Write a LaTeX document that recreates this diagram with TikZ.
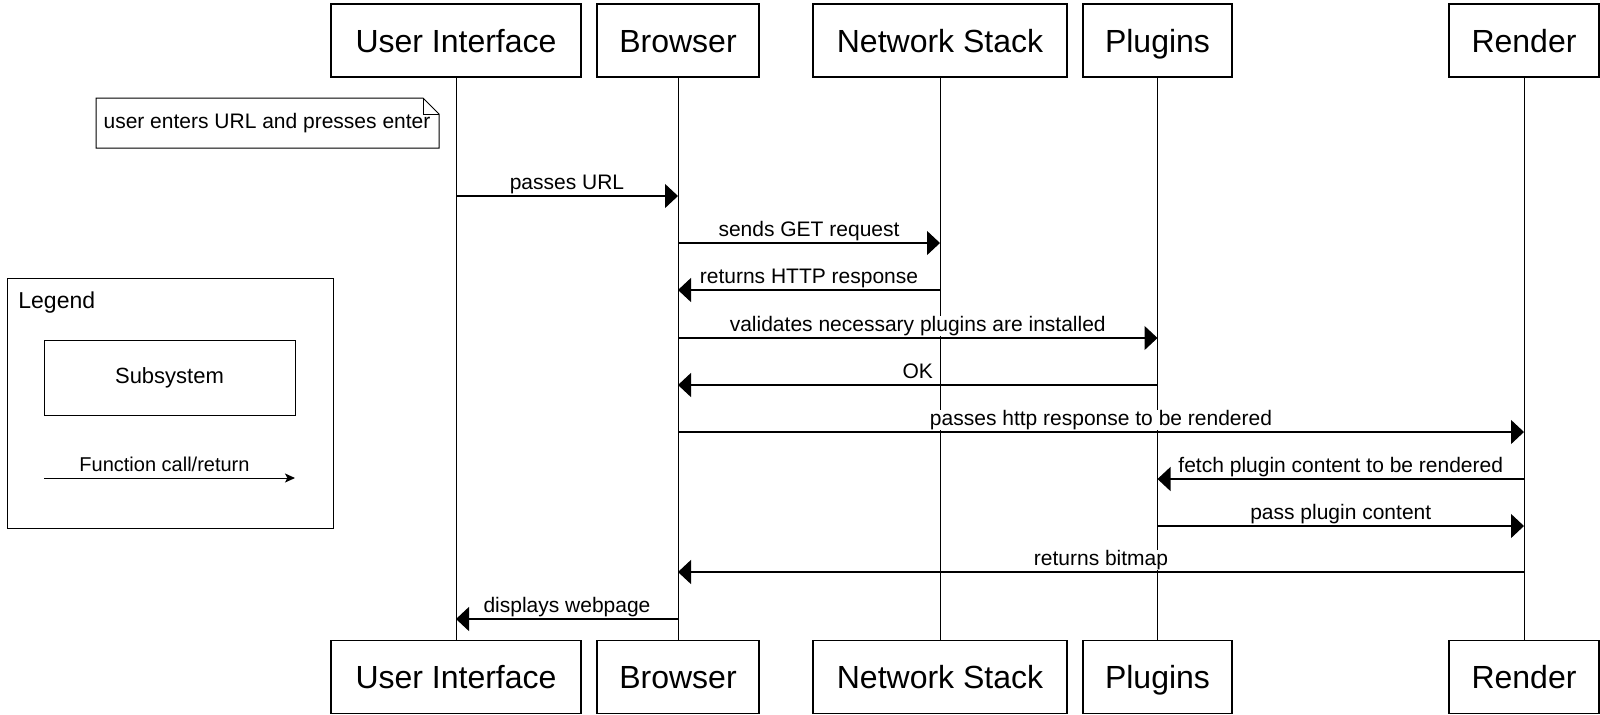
\documentclass[tikz,border=0pt]{standalone}
\usepackage{fontspec}
\setmainfont{Liberation Sans}
\usetikzlibrary{arrows.meta}

\begin{document}
\begin{tikzpicture}[x=0.5pt,y=-0.5pt,
  subsys/.style={draw,line width=0.6pt,minimum height=36.5pt,inner sep=0pt,text height=11.5pt,text depth=0pt,font=\fontsize{16}{19}\selectfont},
  life/.style={line width=0.5pt},
  msg/.style={line width=0.6pt,-{Triangle[length=6.5pt,width=12pt]}},
  lbl/.style={fill=white,inner sep=0pt,text height=7.9pt,text depth=2.3pt,font=\fontsize{10.5}{12}\selectfont}]
  \useasboundingbox (0,0) rectangle (1600,714);
  \node[subsys,minimum width=125pt] (ui) at (456,40.5) {User Interface};
  \node[subsys,minimum width=81pt] (br) at (678,40.5) {Browser};
  \node[subsys,minimum width=127pt] (ns) at (940,40.5) {Network Stack};
  \node[subsys,minimum width=74.5pt] (pl) at (1157.5,40.5) {Plugins};
  \node[subsys,minimum width=75pt] (rd) at (1524,40.5) {Render};
  \node[subsys,minimum width=125pt] (ui2) at (456,677) {User Interface};
  \node[subsys,minimum width=81pt] (br2) at (678,677) {Browser};
  \node[subsys,minimum width=127pt] (ns2) at (940,677) {Network Stack};
  \node[subsys,minimum width=74.5pt] (pl2) at (1157.5,677) {Plugins};
  \node[subsys,minimum width=75pt] (rd2) at (1524,677) {Render};
  \draw[life] (ui) -- (ui2);
  \draw[life] (br) -- (br2);
  \draw[life] (ns) -- (ns2);
  \draw[life] (pl) -- (pl2);
  \draw[life] (rd) -- (rd2);

  \draw[line width=0.5pt,fill=white] (96,98) -- (423,98) -- (439,114) -- (439,148) -- (96,148) -- cycle;
  \draw[line width=0.5pt] (423,98) -- (423,114) -- (439,114);
  \node[font=\fontsize{10.5}{12}\selectfont] (note) at (267,123) {user enters URL and presses enter};

  \draw[msg] (ui |- 0,196) -- node[lbl,above=0.5pt] {passes URL} (br |- 0,196);
  \draw[msg] (br |- 0,243) -- node[lbl,above=0.5pt] {sends GET request} (ns |- 0,243);
  \draw[msg] (ns |- 0,290) -- node[lbl,above=0.5pt] {returns HTTP response} (br |- 0,290);
  \draw[msg] (br |- 0,338) -- node[lbl,above=0.5pt] {validates necessary plugins are installed} (pl |- 0,338);
  \draw[msg] (pl |- 0,385) -- node[lbl,above=0.5pt] {OK} (br |- 0,385);
  \draw[msg] (br |- 0,432) -- node[lbl,above=0.5pt] {passes http response to be rendered} (rd |- 0,432);
  \draw[msg] (rd |- 0,479) -- node[lbl,above=0.5pt] {fetch plugin content to be rendered} (pl |- 0,479);
  \draw[msg] (pl |- 0,526) -- node[lbl,above=0.5pt] {pass plugin content} (rd |- 0,526);
  \draw[msg] (rd |- 0,572) -- node[lbl,above=0.5pt] {returns bitmap} (br |- 0,572);
  \draw[msg] (br |- 0,619) -- node[lbl,above=0.5pt] {displays webpage} (ui |- 0,619);

  \draw[line width=0.5pt] (7,278) rectangle (333,528);
  \node[anchor=base west,inner sep=0pt,font=\fontsize{11.5}{14}\selectfont] (legend) at (18,308) {Legend};
  \node[draw,line width=0.5pt,minimum width=125.5pt,minimum height=37.5pt,font=\fontsize{11}{13}\selectfont] (legsub) at (169.5,377.5) {Subsystem};
  \coordinate (calla) at (44,478);
  \coordinate (callb) at (295,478);
  \draw[line width=0.5pt,-{Stealth[length=5pt,width=4.5pt,inset=1.2pt]}] (calla) -- node[lbl,above=0.5pt,xshift=-2.5pt,font=\fontsize{10}{12}\selectfont] {Function call/return} (callb);
\end{tikzpicture}
\end{document}
